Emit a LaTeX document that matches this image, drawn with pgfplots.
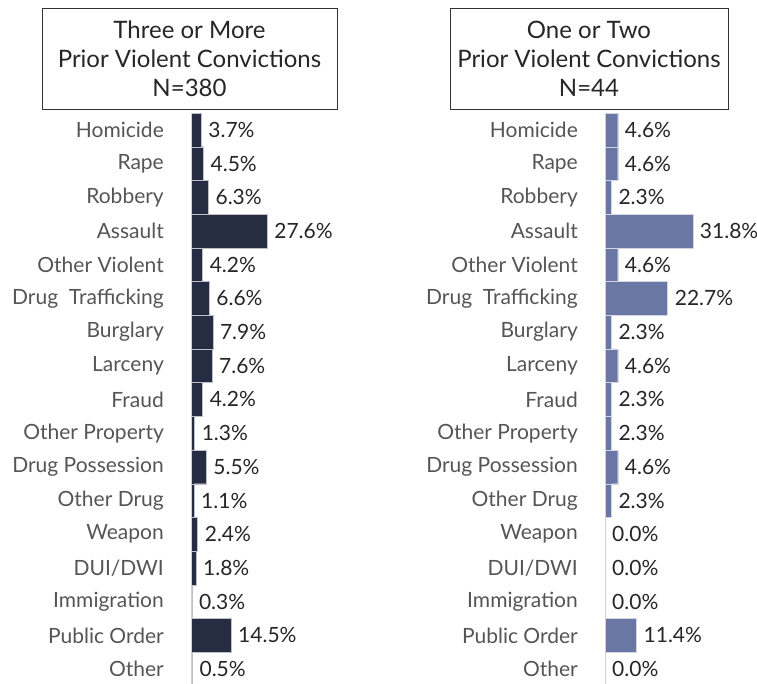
\documentclass[border=0pt]{standalone}
\usepackage{fontspec}
\setmainfont{Lato}
\usepackage{pgfplots}
\pgfplotsset{compat=1.18}

\definecolor{navy}{HTML}{262D42}
\definecolor{slate}{HTML}{6A76A4}
\definecolor{labgray}{HTML}{555555}
\definecolor{axgray}{HTML}{D0D0D0}

\pgfplotsset{
  offense/.style={
    xbar, axis on top,
    scale only axis,
    x=2.76pt, y=33.7pt,
    xmin=0, xmax=45,
    ymin=-0.5, ymax=16.5,
    y dir=reverse,
    bar width=33.7pt,
    axis x line=none,
    axis y line*=left,
    axis line style={axgray, line width=0.8pt},
    ytick={0,...,16},
    yticklabels={Homicide, Rape, Robbery, Assault, Other Violent,
      Drug~~Trafficking, Burglary, Larceny, Fraud, Other Property,
      Drug Possession, Other Drug, Weapon, DUI/DWI, Immigration,
      Public Order, Other},
    major tick length=0pt,
    yticklabel style={anchor=east, inner sep=0pt, xshift=-27pt,
      font=\fontsize{21}{22}\selectfont, text=labgray},
    nodes near coords={\pgfmathprintnumber[fixed, fixed zerofill, precision=1]{\pgfplotspointmeta}\%},
    nodes near coords align={horizontal},
    every node near coord/.append style={anchor=west, inner sep=0pt, xshift=7pt,
      font=\fontsize{21}{22}\selectfont, text=black!85},
    /pgf/number format/assume math mode=true,
    clip=false,
  },
}

\begin{document}
\begin{tikzpicture}
\useasboundingbox (0,0) rectangle (757pt,-683pt);

\node[draw=black!80, line width=0.8pt, minimum width=295pt, minimum height=101pt,
  align=center, font=\fontsize{24}{29}\selectfont, text=black!85]
  at (189.5pt,-58.5pt) {Three or More\\Prior Violent Convictions\\N=380};
\node[draw=black!80, line width=0.8pt, minimum width=278pt, minimum height=101pt,
  align=center, font=\fontsize{24}{29}\selectfont, text=black!85]
  at (589pt,-58.5pt) {One or Two\\Prior Violent Convictions\\N=44};

\begin{axis}[offense, at={(191pt,-113pt)}, anchor=north west]
\addplot[fill=navy, draw=white!70!navy, line width=0.4pt] coordinates {
  (3.7,0) (4.5,1) (6.3,2) (27.6,3) (4.2,4) (6.6,5) (7.9,6) (7.6,7)
  (4.2,8) (1.3,9) (5.5,10) (1.1,11) (2.4,12) (1.8,13) (0.3,14)
  (14.5,15) (0.5,16)};
\end{axis}

\begin{axis}[offense, at={(605pt,-113pt)}, anchor=north west]
\addplot[fill=slate, draw=white!70!slate, line width=0.4pt] coordinates {
  (4.6,0) (4.6,1) (2.3,2) (31.8,3) (4.6,4) (22.7,5) (2.3,6) (4.6,7)
  (2.3,8) (2.3,9) (4.6,10) (2.3,11) (0.0,12) (0.0,13) (0.0,14)
  (11.4,15) (0.0,16)};
\end{axis}
\end{tikzpicture}
\end{document}
